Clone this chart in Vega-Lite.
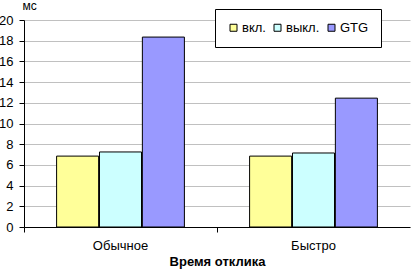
{
  "$schema": "https://vega.github.io/schema/vega-lite/v6.json",
  "autosize": "none",
  "width": 386,
  "height": 207,
  "padding": {"left": 24, "top": 20, "right": 3, "bottom": 44},
  "background": "white",
  "config": {
    "font": "Liberation Sans",
    "view": {"stroke": null}
  },
  "data": {
    "values": [
      {"cat": "Обычное", "series": "вкл.", "value": 6.85},
      {"cat": "Обычное", "series": "выкл.", "value": 7.25},
      {"cat": "Обычное", "series": "GTG", "value": 18.35},
      {"cat": "Быстро", "series": "вкл.", "value": 6.85},
      {"cat": "Быстро", "series": "выкл.", "value": 7.15},
      {"cat": "Быстро", "series": "GTG", "value": 12.45}
    ]
  },
  "mark": {"type": "bar", "stroke": "black", "strokeWidth": 1},
  "encoding": {
    "x": {
      "field": "cat",
      "type": "nominal",
      "sort": ["Обычное", "Быстро"],
      "scale": {"paddingInner": 0, "paddingOuter": 0},
      "axis": {
        "title": "Время отклика",
        "titleFontSize": 13,
        "titleFontWeight": "bold",
        "titleColor": "black",
        "titlePadding": 3,
        "labelAngle": 0,
        "labelFontSize": 13,
        "labelColor": "black",
        "labelPadding": 7,
        "bandPosition": 0,
        "tickColor": "black",
        "tickSize": 5,
        "domainColor": "black",
        "grid": false
      }
    },
    "xOffset": {
      "field": "series",
      "type": "nominal",
      "sort": ["вкл.", "выкл.", "GTG"],
      "scale": {"paddingOuter": 0.76, "paddingInner": 0.02}
    },
    "y": {
      "field": "value",
      "type": "quantitative",
      "scale": {"domain": [0, 20], "nice": false},
      "axis": {
        "values": [0, 2, 4, 6, 8, 10, 12, 14, 16, 18, 20],
        "title": "мс",
        "titleAngle": 0,
        "titleAlign": "left",
        "titleBaseline": "alphabetic",
        "titleX": -2,
        "titleY": -11,
        "titleFontSize": 12,
        "titleFontWeight": "normal",
        "titleColor": "black",
        "labelFontSize": 13,
        "labelColor": "black",
        "labelPadding": 6,
        "tickColor": "black",
        "tickSize": 5,
        "domainColor": "black",
        "gridColor": "#C0C0C0",
        "gridOpacity": 1
      }
    },
    "fill": {
      "field": "series",
      "type": "nominal",
      "sort": ["вкл.", "выкл.", "GTG"],
      "scale": {"domain": ["вкл.", "выкл.", "GTG"], "range": ["#FFFF99", "#CCFFFF", "#9999FF"]},
      "legend": {
        "title": null,
        "orient": "none",
        "legendX": 191,
        "legendY": -11,
        "direction": "horizontal",
        "fillColor": "white",
        "strokeColor": "black",
        "padding": 12,
        "symbolType": "square",
        "symbolSize": 49,
        "symbolStrokeColor": "black",
        "symbolStrokeWidth": 1,
        "symbolOpacity": 1,
        "labelFontSize": 13,
        "labelColor": "black",
        "labelOffset": 2,
        "columnPadding": 5
      }
    }
  }
}
